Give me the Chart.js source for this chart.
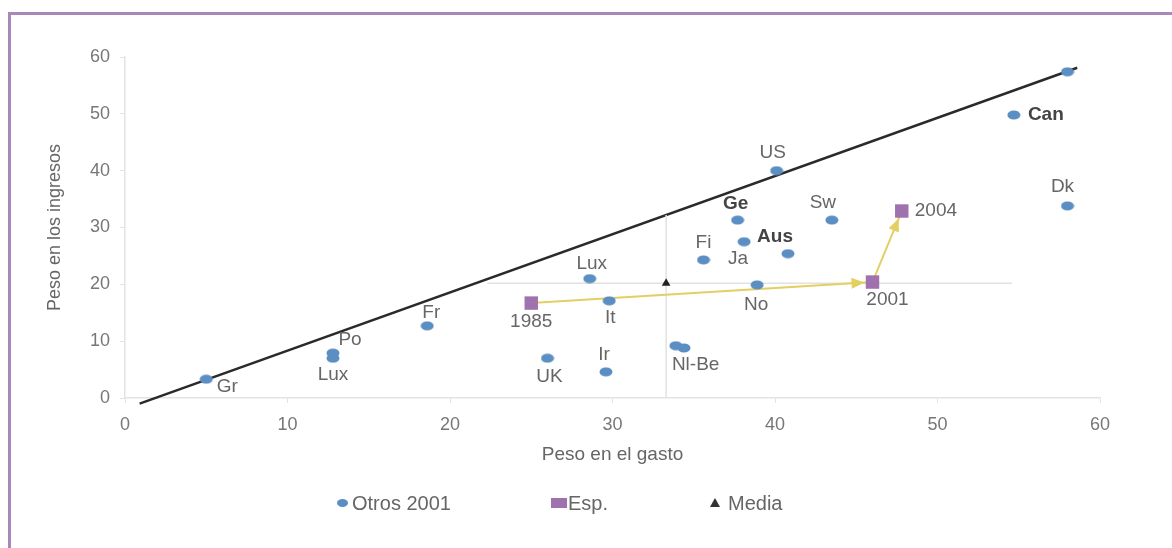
<!DOCTYPE html>
<html>
<head>
<meta charset="utf-8">
<script src="https://cdn.jsdelivr.net/npm/chart.js@4.4.1/dist/chart.umd.min.js"></script>
<style>
  body { margin: 0; background: #fff; font-family: "Liberation Sans", Arial, sans-serif; }
  #wrap { position: relative; width: 1172px; height: 548px; overflow: hidden; }
  #frame { position: absolute; left: 8px; top: 12px; width: 1300px; height: 700px;
           border-top: 3px solid #a987ba; border-left: 3px solid #a987ba; }
  #chart { position: absolute; left: 0; top: 0; width: 1172px; height: 548px; }
  .lg { position: absolute; top: 492px; height: 22px; line-height: 22px; font-size: 20px; color: #666; }
  .mk { position: absolute; }
</style>
</head>
<body>
<div id="wrap">
  <div id="frame"></div>
  <div id="chart"><canvas id="c"></canvas></div>
  <!-- legend -->
  <div class="mk" style="left:337px;top:499px;width:11px;height:8px;border-radius:50%;background:#5b8ec2"></div>
  <div class="lg" style="left:352px">Otros 2001</div>
  <div class="mk" style="left:551px;top:498px;width:16px;height:10px;background:#9f72ad"></div>
  <div class="lg" style="left:568px">Esp.</div>
  <div class="mk" style="left:710px;top:498px;width:0;height:0;border-left:5px solid transparent;border-right:5px solid transparent;border-bottom:9px solid #333"></div>
  <div class="lg" style="left:728px">Media</div>
</div>
<script>
// other countries, 2001
const otrosNames = ['Gr', 'Po', 'Lux', 'Fr', 'UK', 'Lux', 'It', 'Ir', 'Nl-Be', '', 'Fi', 'Ge', 'Ja', 'Aus', 'No', 'US', 'Sw', 'Can', 'Dk', ''];
const otrosGasto = [5.0, 12.8, 12.8, 18.6, 26.0, 28.6, 29.8, 29.6, 33.9, 34.4, 35.6, 37.7, 38.1, 40.8, 38.9, 40.1, 43.5, 54.7, 58.0, 58.0];
const otrosIngresos = [3.3, 7.9, 7.0, 12.7, 7.0, 21.0, 17.1, 4.6, 9.2, 8.8, 24.3, 31.3, 27.5, 25.4, 19.9, 40.0, 31.3, 49.8, 33.8, 57.4];

// Spain
const espYears = ['1985', '2001', '2004'];
const espGasto = [25.0, 46.0, 47.8];
const espIngresos = [16.7, 20.4, 32.9];

// average
const mediaGasto = [33.3];
const mediaIngresos = [20.2];
const mediaCrossGasto = [22.3, 54.6];
const mediaCrossIngresos = [0, 32.2];

// reference line
const refGasto = [0.9, 58.6];
const refIngresos = [-1.0, 58.1];

// label placement (dx, dy in px, align), kept apart from the data
const otrosLabelPos = [
  [21, 8], [17, -13], [0, 17], [4, -13], [2, 19], [2, -15], [1, 17], [-2, -17],
  [-4, 19, 'left'], null, [0, -17], [-2, -16], [-6, 17], [-13, -17], [-1, 20],
  [-4, -18], [-9, -17], [14, 0, 'left'], [-5, -19], null
];
const boldNames = ['Ge', 'Aus', 'Can'];
const espLabelPos = [[0, 19], [15, 18], [13, 0, 'left']];

const FONT = '"Liberation Sans", Arial, sans-serif';
const BLUE = '#5b8ec2';
const PURPLE = '#9f72ad';
const YELLOW = '#e3cf62';

const pts = (xs, ys) => xs.map((v, i) => ({ x: v, y: ys[i] }));

// ellipse marker
const dot = document.createElement('canvas');
dot.width = 14; dot.height = 10;
(() => {
  const g = dot.getContext('2d');
  g.fillStyle = BLUE;
  g.beginPath();
  g.ellipse(7, 5, 6.5, 4.5, 0, 0, Math.PI * 2);
  g.fill();
})();

const labelPlugin = {
  id: 'pointLabels',
  afterDatasetsDraw(chart) {
    const { ctx, scales: { x, y } } = chart;
    ctx.save();
    ctx.textBaseline = 'middle';
    const put = (txt, gx, gy, pos) => {
      if (!pos || !txt) return;
      const bold = boldNames.includes(txt);
      ctx.font = (bold ? 'bold ' : '') + '19px ' + FONT;
      ctx.fillStyle = bold ? '#444' : '#666';
      ctx.textAlign = pos[2] || 'center';
      ctx.fillText(txt, x.getPixelForValue(gx) + pos[0], y.getPixelForValue(gy) + pos[1]);
    };
    otrosNames.forEach((n, i) => put(n, otrosGasto[i], otrosIngresos[i], otrosLabelPos[i]));
    espYears.forEach((n, i) => put(n, espGasto[i], espIngresos[i], espLabelPos[i]));
    ctx.restore();
  }
};

const arrowPlugin = {
  id: 'arrows',
  afterDatasetsDraw(chart) {
    const { ctx, scales: { x, y } } = chart;
    ctx.save();
    ctx.fillStyle = YELLOW;
    for (let i = 1; i < espGasto.length; i++) {
      const x0 = x.getPixelForValue(espGasto[i - 1]), y0 = y.getPixelForValue(espIngresos[i - 1]);
      const x1 = x.getPixelForValue(espGasto[i]), y1 = y.getPixelForValue(espIngresos[i]);
      const len = Math.hypot(x1 - x0, y1 - y0);
      const ux = (x1 - x0) / len, uy = (y1 - y0) / len;
      const tx = x1 - ux * 8, ty = y1 - uy * 8;
      const bx = tx - ux * 13, by = ty - uy * 13;
      ctx.beginPath();
      ctx.moveTo(tx, ty);
      ctx.lineTo(bx - uy * 5.5, by + ux * 5.5);
      ctx.lineTo(bx + uy * 5.5, by - ux * 5.5);
      ctx.closePath();
      ctx.fill();
    }
    ctx.restore();
  }
};

new Chart(document.getElementById('c'), {
  type: 'scatter',
  data: {
    datasets: [
      { label: 'Otros 2001', data: pts(otrosGasto, otrosIngresos), pointStyle: dot, order: 0 },
      { label: 'Esp.', data: pts(espGasto, espIngresos), pointStyle: 'rect', pointRadius: 9.5,
        backgroundColor: PURPLE, borderWidth: 0, order: 1 },
      { label: 'Media', data: pts(mediaGasto, mediaIngresos), pointStyle: 'triangle', pointRadius: 5,
        backgroundColor: '#222', borderWidth: 0, order: 2 },
      { data: pts(espGasto, espIngresos), showLine: true, borderColor: YELLOW, borderWidth: 2,
        pointRadius: 0, order: 3 },
      { data: pts(mediaCrossGasto, [mediaIngresos[0], mediaIngresos[0]]), showLine: true,
        borderColor: '#e2e2e2', borderWidth: 1.5, pointRadius: 0, order: 4 },
      { data: pts([mediaGasto[0], mediaGasto[0]], mediaCrossIngresos), showLine: true,
        borderColor: '#e2e2e2', borderWidth: 1.5, pointRadius: 0, order: 4 },
      { data: pts(refGasto, refIngresos), showLine: true, borderColor: '#2a2a2a', borderWidth: 2.5,
        pointRadius: 0, clip: false, order: 5 }
    ]
  },
  options: {
    responsive: true,
    maintainAspectRatio: false,
    animation: false,
    events: [],
    layout: { padding: { left: 40, top: 57, right: 72, bottom: 80 } },
    plugins: { legend: { display: false }, tooltip: { enabled: false } },
    scales: {
      x: {
        type: 'linear', min: 0, max: 60,
        ticks: { stepSize: 10, color: '#777', padding: 11, font: { size: 18, family: FONT } },
        grid: { drawOnChartArea: false, tickLength: 5, color: '#e3e3e3' },
        border: { color: '#e3e3e3', width: 1.5 },
        title: { display: true, text: 'Peso en el gasto', color: '#666',
                 font: { size: 19, family: FONT }, padding: { top: 0, bottom: 2 } },
        afterFit(s) { s.height = 70; }
      },
      y: {
        type: 'linear', min: 0, max: 60,
        ticks: { stepSize: 10, color: '#777', padding: 10, font: { size: 18, family: FONT } },
        grid: { drawOnChartArea: false, tickLength: 5, color: '#e3e3e3' },
        border: { color: '#e3e3e3', width: 1.5 },
        title: { display: true, text: 'Peso en los ingresos', color: '#666',
                 font: { size: 18, family: FONT }, padding: { top: 4, bottom: 0 } },
        afterFit(s) { s.width = 85; }
      }
    }
  },
  plugins: [labelPlugin, arrowPlugin]
});
</script>
</body>
</html>
